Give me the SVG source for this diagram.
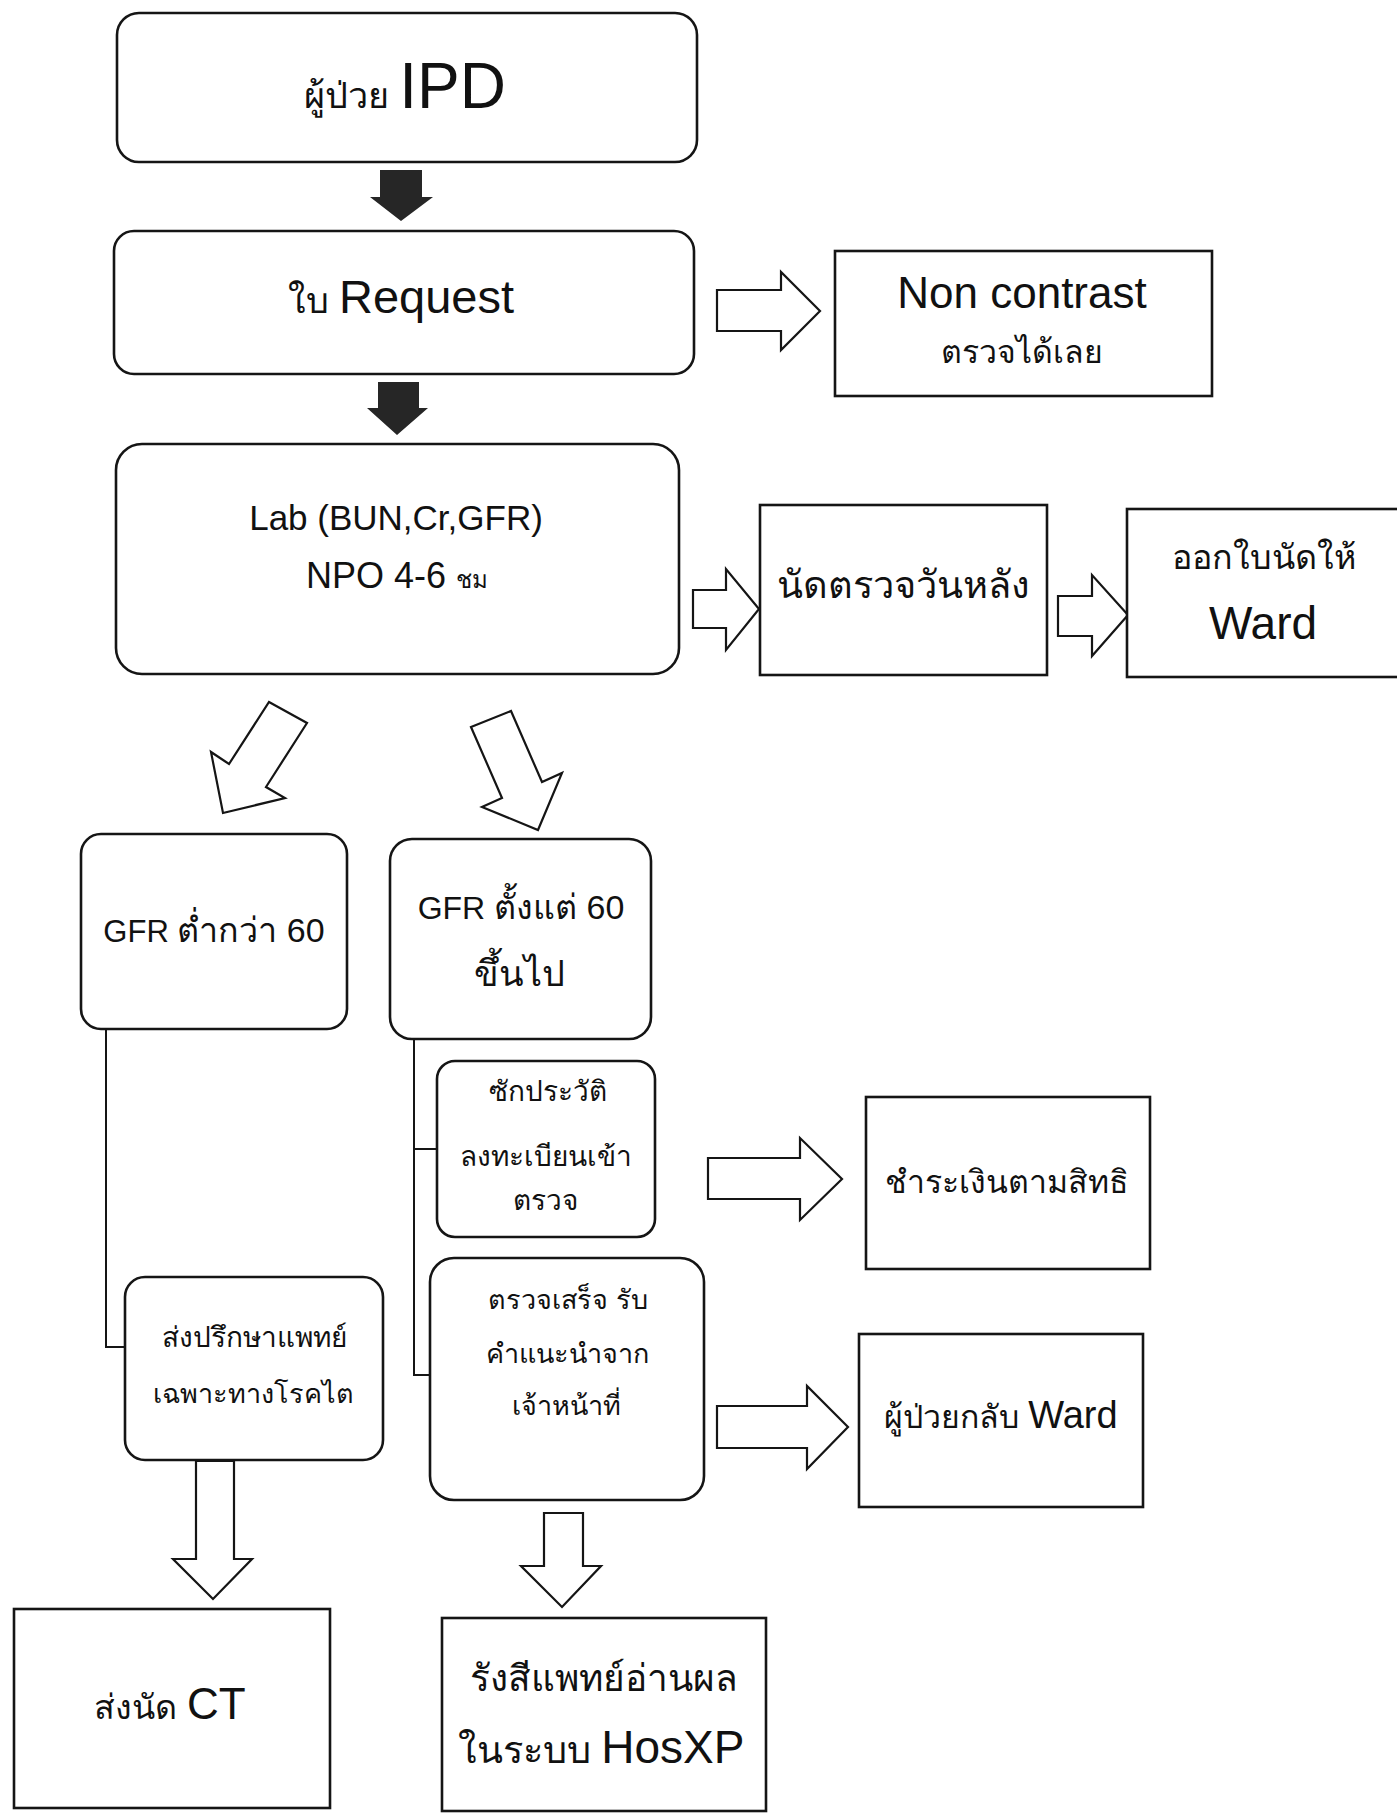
<svg xmlns="http://www.w3.org/2000/svg" width="1397" height="1814" viewBox="0 0 1397 1814">
<style>
.box{fill:#fff;stroke:#151515;stroke-width:2.6}
.hol{fill:#fff;stroke:#151515;stroke-width:2.2;stroke-linejoin:miter}
.dark{fill:#262626}
.ln{fill:none;stroke:#151515;stroke-width:2}
text{font-family:"Liberation Sans","Noto Sans",sans-serif;fill:#111;text-anchor:middle}
.th{font-size:32px}
</style>
<rect width="1397" height="1814" fill="#fff"/>
<g id="connectors">
<polygon class="dark" points="380,170 422,170 422,197 433,197 401,221 370,197 380,197"/>
<polygon class="dark" points="378,382 419,382 419,408 428,408 397,435 367,408 378,408"/>
<polygon class="hol" points="717,290 781,290 781,272 820,311 781,350 781,331 717,331"/>
<polygon class="hol" points="693,590 726,590 726,569 759,609 726,650 726,628 693,628"/>
<polygon class="hol" points="1058,596 1092,596 1092,575 1128,615 1092,656 1092,636 1058,636"/>
<polygon class="hol" points="269,702 307,723 266,787 285,798 223,813 211,752 229,764"/>
<polygon class="hol" points="471,727 511,711 542,782 562,773 538,830 482,807 502,798"/>
<polyline class="ln" points="106,1029 106,1347 125,1347"/>
<polyline class="ln" points="414,1039 414,1375 430,1375"/>
<line class="ln" x1="414" y1="1149" x2="437" y2="1149"/>
<polygon class="hol" points="708,1158 800,1158 800,1138 842,1179 800,1220 800,1199 708,1199"/>
<polygon class="hol" points="717,1406 807,1406 807,1386 848,1427 807,1469 807,1448 717,1448"/>
<polygon class="hol" points="196,1461 234,1461 234,1559 252,1559 213,1599 173,1559 196,1559"/>
<polygon class="hol" points="544,1513 583,1513 583,1566 601,1566 562,1607 521,1566 544,1566"/>
</g>
<g id="n-ipd">
<rect class="box" x="117" y="13" width="580" height="149" rx="22"/>
<text x="405" y="108"><tspan font-size="36">ผู้ป่วย </tspan><tspan font-size="64">IPD</tspan></text>
</g>
<g id="n-request">
<rect class="box" x="114" y="231" width="580" height="143" rx="20"/>
<text x="401" y="313"><tspan font-size="36">ใบ </tspan><tspan font-size="47">Request</tspan></text>
</g>
<g id="n-noncontrast">
<rect class="box" x="835" y="251" width="377" height="145"/>
<text x="1022" y="308" font-size="44">Non contrast</text>
<text x="1022" y="363" class="th">ตรวจได้เลย</text>
</g>
<g id="n-lab">
<rect class="box" x="116" y="444" width="563" height="230" rx="26"/>
<text x="396" y="530" font-size="35">Lab (BUN,Cr,GFR)</text>
<text x="397" y="588"><tspan font-size="36">NPO 4-6  </tspan><tspan font-size="24">ชม</tspan></text>
</g>
<g id="n-nextday">
<rect class="box" x="760" y="505" width="287" height="170"/>
<text x="903" y="598" font-size="38">นัดตรวจวันหลัง</text>
</g>
<g id="n-ward-appt">
<rect class="box" x="1127" y="509" width="275" height="168"/>
<text x="1264" y="569" font-size="34">ออกใบนัดให้</text>
<text x="1263" y="639" font-size="46">Ward</text>
</g>
<g id="n-gfr-low">
<rect class="box" x="81" y="834" width="266" height="195" rx="20"/>
<text x="214" y="942"><tspan font-size="31">GFR </tspan><tspan font-size="34">ต่ำกว่า 60</tspan></text>
</g>
<g id="n-gfr-high">
<rect class="box" x="390" y="839" width="261" height="200" rx="22"/>
<text x="521" y="919"><tspan font-size="32">GFR  </tspan><tspan font-size="34">ตั้งแต่ 60</tspan></text>
<text x="519" y="986" font-size="36">ขึ้นไป</text>
</g>
<g id="n-history">
<rect class="box" x="437" y="1061" width="218" height="176" rx="18"/>
<text x="548" y="1101" font-size="28">ซักประวัติ</text>
<text x="546" y="1166" font-size="28">ลงทะเบียนเข้า</text>
<text x="545" y="1210" font-size="28">ตรวจ</text>
</g>
<g id="n-pay">
<rect class="box" x="866" y="1097" width="284" height="172"/>
<text x="1007" y="1193" font-size="32">ชำระเงินตามสิทธิ</text>
</g>
<g id="n-consult">
<rect class="box" x="125" y="1277" width="258" height="183" rx="20"/>
<text x="254" y="1347" font-size="28">ส่งปรึกษาแพทย์</text>
<text x="253" y="1403" font-size="27">เฉพาะทางโรคไต</text>
</g>
<g id="n-done">
<rect class="box" x="430" y="1258" width="274" height="242" rx="24"/>
<text x="568" y="1309" font-size="27">ตรวจเสร็จ รับ</text>
<text x="567" y="1363" font-size="27">คำแนะนำจาก</text>
<text x="566" y="1415" font-size="27">เจ้าหน้าที่</text>
</g>
<g id="n-back-ward">
<rect class="box" x="859" y="1334" width="284" height="173"/>
<text x="1001" y="1428"><tspan font-size="32">ผู้ป่วยกลับ </tspan><tspan font-size="38">Ward</tspan></text>
</g>
<g id="n-ct">
<rect class="box" x="14" y="1609" width="316" height="199"/>
<text x="170" y="1719"><tspan font-size="34">ส่งนัด </tspan><tspan font-size="44">CT</tspan></text>
</g>
<g id="n-radiology">
<rect class="box" x="442" y="1618" width="324" height="193"/>
<text x="604" y="1691" font-size="37">รังสีแพทย์อ่านผล</text>
<text x="601" y="1763"><tspan font-size="38">ในระบบ </tspan><tspan font-size="46">HosXP</tspan></text>
</g>
</svg>
